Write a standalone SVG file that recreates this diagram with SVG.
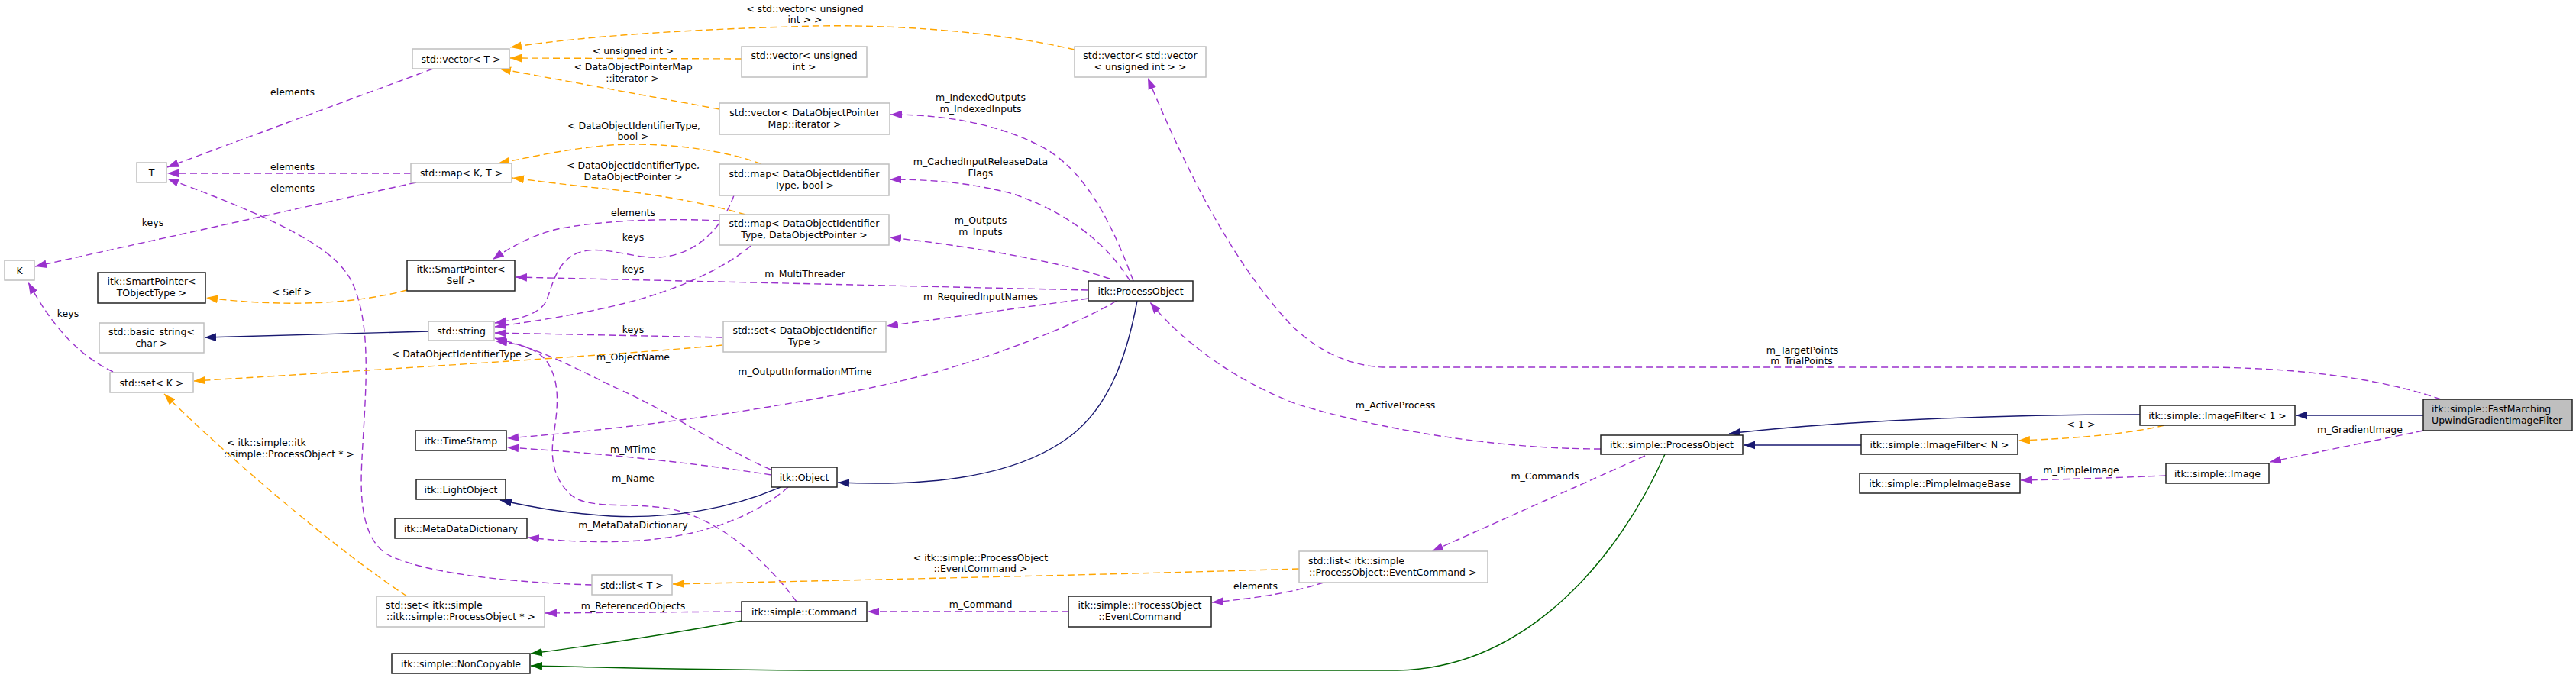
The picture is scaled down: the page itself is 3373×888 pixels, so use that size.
<svg xmlns="http://www.w3.org/2000/svg" width="3373" height="888" viewBox="0 0 3373 888">
<style>
.g{fill:#fff;stroke:#bfbfbf;stroke-width:1.5}
.b{fill:#fff;stroke:#222;stroke-width:1.5}
.h{fill:#bfbfbf;stroke:#222;stroke-width:1.5}
text{font-family:"DejaVu Sans",Verdana,sans-serif;font-size:12.5px;fill:#000}
.c{text-anchor:middle}
.p{fill:none;stroke:#9a32cd;stroke-width:1.4;stroke-dasharray:9 5;marker-end:url(#ap)}
.o{fill:none;stroke:#ffa500;stroke-width:1.4;stroke-dasharray:9 5;marker-end:url(#ao)}
.v{fill:none;stroke:#191970;stroke-width:1.4;marker-end:url(#av)}
.d{fill:none;stroke:#006400;stroke-width:1.4;marker-end:url(#ad)}
</style>
<defs>
<marker id="ap" markerUnits="userSpaceOnUse" markerWidth="15" markerHeight="11" viewBox="0 0 14 10" refX="14" refY="5" orient="auto"><path d="M0,0L14,5L0,10z" fill="#9a32cd"/></marker>
<marker id="ao" markerUnits="userSpaceOnUse" markerWidth="15" markerHeight="11" viewBox="0 0 14 10" refX="14" refY="5" orient="auto"><path d="M0,0L14,5L0,10z" fill="#ffa500"/></marker>
<marker id="av" markerUnits="userSpaceOnUse" markerWidth="15" markerHeight="11" viewBox="0 0 14 10" refX="14" refY="5" orient="auto"><path d="M0,0L14,5L0,10z" fill="#191970"/></marker>
<marker id="ad" markerUnits="userSpaceOnUse" markerWidth="15" markerHeight="11" viewBox="0 0 14 10" refX="14" refY="5" orient="auto"><path d="M0,0L14,5L0,10z" fill="#006400"/></marker>
</defs>
<rect width="3373" height="888" fill="#fff"/>
<g id="edges">
<path class="p" d="M567,90 L219,219"/>
<path class="p" d="M538,227 L219,227"/>
<path class="p" d="M545,239 L46,349"/>
<path class="p" d="M775,766 C700,764 560,755 505,725 C470,700 472,640 474,600 C478,520 488,430 462,372 C445,335 400,300 219,234"/>
<path class="p" d="M148,487 C95,462 62,415 37,370"/>
<path class="o" d="M533,380 C450,402 350,400 270,390"/>
<path class="v" d="M561,434 L268,442"/>
<path class="o" d="M946,452 C800,466 400,490 254,499"/>
<path class="o" d="M533,781 C440,720 300,600 215,516"/>
<path class="p" d="M961,256 C945,300 910,335 862,337 C830,338 800,325 770,328 C730,333 725,370 715,395 C705,412 680,418 648,423"/>
<path class="p" d="M983,322 C950,350 900,372 860,385 C800,405 720,418 648,428"/>
<path class="p" d="M946,442 L648,436"/>
<path class="p" d="M1009,615 C950,590 880,540 800,505 C740,475 700,455 648,443"/>
<path class="p" d="M1043,788 C1000,730 940,680 880,667 C830,657 775,668 750,650 C725,630 720,600 725,570 C730,535 735,500 715,472 C700,455 680,450 649,447"/>
<path class="p" d="M1425,380 L675,363"/>
<path class="p" d="M942,289 C860,285 780,290 730,300 C700,307 670,322 645,340"/>
<path class="p" d="M1484,368 C1455,290 1420,220 1360,190 C1300,160 1230,150 1166,150"/>
<path class="p" d="M1479,367 C1450,320 1400,280 1330,255 C1270,238 1210,235 1165,235"/>
<path class="p" d="M1453,365 C1380,340 1250,320 1165,311"/>
<path class="p" d="M1425,391 L1161,427"/>
<path class="p" d="M1462,394 C1420,420 1300,470 1188,497 C1080,523 900,555 664,574"/>
<path class="v" d="M1489,394 C1475,470 1450,540 1392,578 C1330,620 1230,638 1097,632"/>
<path class="p" d="M1010,622 C900,605 780,593 664,586"/>
<path class="v" d="M1022,638 C960,665 880,680 800,676 C740,672 700,665 655,655"/>
<path class="p" d="M1032,638 C990,675 920,705 820,709 C760,711 720,707 691,704"/>
<path class="p" d="M971,801 L714,803"/>
<path class="d" d="M971,813 C880,830 780,845 695,856"/>
<path class="d" d="M2180,595 C2120,730 2000,875 1830,878 L1100,878 C900,878 800,874 695,872"/>
<path class="p" d="M1399,801 L1136,801"/>
<path class="p" d="M1733,763 C1690,777 1640,784 1587,789"/>
<path class="o" d="M1701,745 C1400,754 1100,760 881,765"/>
<path class="p" d="M2154,597 L1875,722"/>
<path class="p" d="M2096,588 C1950,588 1800,560 1700,530 C1620,500 1550,450 1506,396"/>
<path class="p" d="M3196,523 C3100,490 2980,481 2880,481 L1810,481 C1760,478 1720,455 1690,425 C1620,350 1560,240 1503,102"/>
<path class="v" d="M3173,544 L3006,544"/>
<path class="v" d="M2802,543 C2600,543 2400,552 2264,568"/>
<path class="v" d="M2437,583 L2283,583"/>
<path class="o" d="M2834,557 C2780,570 2700,575 2643,577"/>
<path class="p" d="M3173,564 L2972,605"/>
<path class="p" d="M2836,623 C2760,626 2700,628 2646,629"/>
<path class="o" d="M1407,65 C1300,40 1150,30 1035,35 C930,38 780,45 668,62"/>
<path class="o" d="M971,77 L668,76"/>
<path class="o" d="M942,143 L654,90"/>
<path class="o" d="M997,215 C960,200 880,185 800,190 C740,195 700,205 652,214"/>
<path class="o" d="M976,281 C920,265 860,255 800,248 C750,243 710,238 671,233"/>
</g>
<g id="edge-labels">
<text class="c" x="383" y="125">elements</text>
<text class="c" x="383" y="223">elements</text>
<text class="c" x="383" y="251">elements</text>
<text class="c" x="200" y="296">keys</text>
<text class="c" x="89" y="415">keys</text>
<text class="c" x="382" y="387">&lt; Self &gt;</text>
<text class="c" x="605" y="468">&lt; DataObjectIdentifierType &gt;</text>
<text x="297" y="584">&lt; itk::simple::itk</text>
<text x="293" y="599">::simple::ProcessObject * &gt;</text>
<text class="c" x="829" y="315">keys</text>
<text class="c" x="829" y="357">keys</text>
<text class="c" x="829" y="436">keys</text>
<text class="c" x="829" y="472">m_ObjectName</text>
<text class="c" x="829" y="631">m_Name</text>
<text class="c" x="1054" y="363">m_MultiThreader</text>
<text class="c" x="829" y="283">elements</text>
<text class="c" x="1284" y="132">m_IndexedOutputs</text>
<text class="c" x="1284" y="147">m_IndexedInputs</text>
<text class="c" x="1284" y="216">m_CachedInputReleaseData</text>
<text class="c" x="1284" y="231">Flags</text>
<text class="c" x="1284" y="293">m_Outputs</text>
<text class="c" x="1284" y="308">m_Inputs</text>
<text class="c" x="1284" y="393">m_RequiredInputNames</text>
<text class="c" x="1054" y="491">m_OutputInformationMTime</text>
<text class="c" x="829" y="593">m_MTime</text>
<text class="c" x="829" y="692">m_MetaDataDictionary</text>
<text class="c" x="829" y="798">m_ReferencedObjects</text>
<text class="c" x="1284" y="796">m_Command</text>
<text class="c" x="1644" y="772">elements</text>
<text class="c" x="1284" y="735">&lt; itk::simple::ProcessObject</text>
<text class="c" x="1284" y="749">::EventCommand &gt;</text>
<text class="c" x="2023" y="628">m_Commands</text>
<text class="c" x="1827" y="535">m_ActiveProcess</text>
<text class="c" x="2360" y="463">m_TargetPoints</text>
<text class="c" x="2359" y="477">m_TrialPoints</text>
<text class="c" x="2725" y="560">&lt; 1 &gt;</text>
<text class="c" x="3090" y="567">m_GradientImage</text>
<text class="c" x="2725" y="620">m_PimpleImage</text>
<text class="c" x="1054" y="16">&lt; std::vector&lt; unsigned</text>
<text class="c" x="1054" y="30">int &gt; &gt;</text>
<text class="c" x="829" y="71">&lt; unsigned int &gt;</text>
<text class="c" x="829" y="92">&lt; DataObjectPointerMap</text>
<text class="c" x="828" y="107">::iterator &gt;</text>
<text class="c" x="830" y="169">&lt; DataObjectIdentifierType,</text>
<text class="c" x="829" y="183">bool &gt;</text>
<text class="c" x="829" y="221">&lt; DataObjectIdentifierType,</text>
<text class="c" x="829" y="236">DataObjectPointer &gt;</text>
</g>
<g id="n_vecT"><rect class="g" x="540" y="64" width="127" height="26"/><text class="c" x="603.5" y="81.5">std::vector&lt; T &gt;</text></g>
<g id="n_T"><rect class="g" x="179" y="213" width="39" height="26"/><text class="c" x="198.5" y="230.5">T</text></g>
<g id="n_mapKT"><rect class="g" x="538" y="214" width="132" height="25"/><text class="c" x="604" y="231">std::map&lt; K, T &gt;</text></g>
<g id="n_K"><rect class="g" x="6" y="341" width="39" height="26"/><text class="c" x="25.5" y="358.5">K</text></g>
<g id="n_spTO"><rect class="b" x="128" y="357" width="141" height="40"/><text class="c" x="198.5" y="373">itk::SmartPointer&lt;</text><text class="c" x="198.5" y="388">TObjectType &gt;</text></g>
<g id="n_spSelf"><rect class="b" x="533" y="341" width="141" height="40"/><text class="c" x="603.5" y="357">itk::SmartPointer&lt;</text><text class="c" x="603.5" y="372">Self &gt;</text></g>
<g id="n_string"><rect class="g" x="561" y="421" width="86" height="25"/><text class="c" x="604" y="438">std::string</text></g>
<g id="n_bstring"><rect class="g" x="130" y="423" width="137" height="39"/><text class="c" x="198.5" y="439">std::basic_string&lt;</text><text class="c" x="198.5" y="454">char &gt;</text></g>
<g id="n_setK"><rect class="g" x="144" y="488" width="109" height="26"/><text class="c" x="198.5" y="505.5">std::set&lt; K &gt;</text></g>
<g id="n_ts"><rect class="b" x="544" y="564" width="119" height="26"/><text class="c" x="603.5" y="581.5">itk::TimeStamp</text></g>
<g id="n_lo"><rect class="b" x="545" y="628" width="117" height="26"/><text class="c" x="603.5" y="645.5">itk::LightObject</text></g>
<g id="n_mdd"><rect class="b" x="517" y="679" width="173" height="26"/><text class="c" x="603.5" y="696.5">itk::MetaDataDictionary</text></g>
<g id="n_listT"><rect class="g" x="775" y="753" width="105" height="26"/><text class="c" x="827.5" y="770.5">std::list&lt; T &gt;</text></g>
<g id="n_setPO"><rect class="g" x="493" y="781" width="220" height="40"/><text x="505" y="797">std::set&lt; itk::simple</text><text x="506" y="812">::itk::simple::ProcessObject * &gt;</text></g>
<g id="n_nc"><rect class="b" x="513" y="856" width="181" height="26"/><text class="c" x="603.5" y="873.5">itk::simple::NonCopyable</text></g>
<g id="n_vuint"><rect class="g" x="971" y="61" width="164" height="40"/><text class="c" x="1053" y="77">std::vector&lt; unsigned</text><text class="c" x="1053" y="92">int &gt;</text></g>
<g id="n_vv"><rect class="g" x="1407" y="61" width="172" height="40"/><text class="c" x="1493" y="77">std::vector&lt; std::vector</text><text class="c" x="1493" y="92">&lt; unsigned int &gt; &gt;</text></g>
<g id="n_vdopm"><rect class="g" x="942" y="135" width="223" height="41"/><text class="c" x="1053.5" y="151.5">std::vector&lt; DataObjectPointer</text><text class="c" x="1053.5" y="166.5">Map::iterator &gt;</text></g>
<g id="n_mapbool"><rect class="g" x="942" y="215" width="222" height="41"/><text class="c" x="1053" y="231.5">std::map&lt; DataObjectIdentifier</text><text class="c" x="1053" y="246.5">Type, bool &gt;</text></g>
<g id="n_mapdop"><rect class="g" x="942" y="281" width="222" height="40"/><text class="c" x="1053" y="297">std::map&lt; DataObjectIdentifier</text><text class="c" x="1053" y="312">Type, DataObjectPointer &gt;</text></g>
<g id="n_itkpo"><rect class="b" x="1425" y="368" width="137" height="26"/><text class="c" x="1493.5" y="385.5">itk::ProcessObject</text></g>
<g id="n_setdoit"><rect class="g" x="947" y="421" width="213" height="40"/><text class="c" x="1053.5" y="437">std::set&lt; DataObjectIdentifier</text><text class="c" x="1053.5" y="452">Type &gt;</text></g>
<g id="n_obj"><rect class="b" x="1010" y="612" width="86" height="26"/><text class="c" x="1053" y="629.5">itk::Object</text></g>
<g id="n_cmd"><rect class="b" x="971" y="788" width="164" height="26"/><text class="c" x="1053" y="805.5">itk::simple::Command</text></g>
<g id="n_evc"><rect class="b" x="1399" y="781" width="187" height="40"/><text class="c" x="1492.5" y="797">itk::simple::ProcessObject</text><text class="c" x="1492.5" y="812">::EventCommand</text></g>
<g id="n_spo"><rect class="b" x="2096" y="570" width="186" height="25"/><text class="c" x="2189" y="587">itk::simple::ProcessObject</text></g>
<g id="n_listevc"><rect class="g" x="1701" y="722" width="247" height="41"/><text x="1713" y="738.5">std::list&lt; itk::simple</text><text x="1714" y="753.5">::ProcessObject::EventCommand &gt;</text></g>
<g id="n_fm"><rect class="h" x="3173" y="523" width="195" height="41"/><text x="3184" y="539.5">itk::simple::FastMarching</text><text x="3184" y="554.5">UpwindGradientImageFilter</text></g>
<g id="n_if1"><rect class="b" x="2802" y="531" width="203" height="26"/><text class="c" x="2903.5" y="548.5">itk::simple::ImageFilter&lt; 1 &gt;</text></g>
<g id="n_ifN"><rect class="b" x="2437" y="569" width="205" height="26"/><text class="c" x="2539.5" y="586.5">itk::simple::ImageFilter&lt; N &gt;</text></g>
<g id="n_img"><rect class="b" x="2836" y="607" width="135" height="26"/><text class="c" x="2903.5" y="624.5">itk::simple::Image</text></g>
<g id="n_pib"><rect class="b" x="2435" y="620" width="210" height="26"/><text class="c" x="2540" y="637.5">itk::simple::PimpleImageBase</text></g>
</svg>
